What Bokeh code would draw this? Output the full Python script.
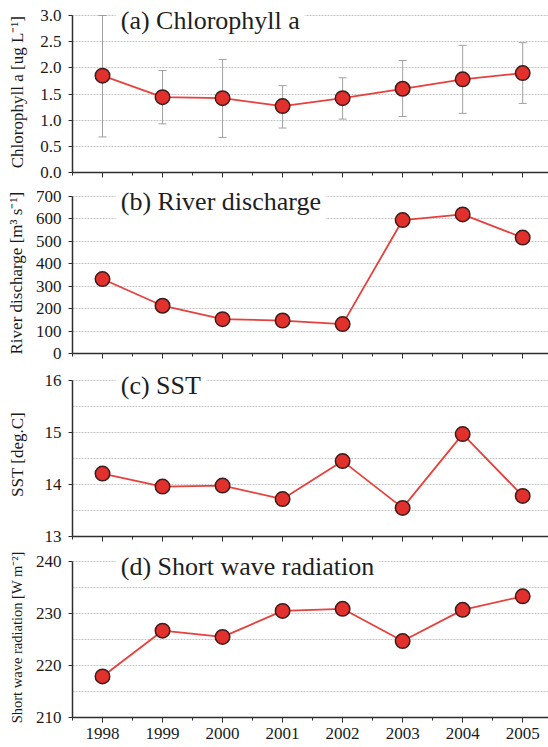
from bokeh.plotting import figure
from bokeh.layouts import column
from bokeh.models import Range1d, FixedTicker, Label, Whisker, TeeHead, ColumnDataSource
from bokeh.embed import file_html
from bokeh.resources import INLINE

years = [1998, 1999, 2000, 2001, 2002, 2003, 2004, 2005]
half_years = [1997.5, 1998.5, 1999.5, 2000.5, 2001.5, 2002.5, 2003.5, 2004.5, 2005.5]

chl = [1.85, 1.44, 1.42, 1.27, 1.42, 1.60, 1.78, 1.90]
chl_upper = [3.00, 1.95, 2.16, 1.66, 1.81, 2.14, 2.43, 2.48]
chl_lower = [0.68, 0.93, 0.67, 0.85, 1.02, 1.07, 1.13, 1.32]
river = [332, 213, 153, 147, 131, 595, 620, 517]
sst = [14.21, 13.96, 13.98, 13.72, 14.45, 13.55, 14.97, 13.78]
swr = [217.9, 226.7, 225.5, 230.5, 230.9, 224.7, 230.7, 233.3]

chl_ticks = [0.0, 0.5, 1.0, 1.5, 2.0, 2.5, 3.0]
river_ticks = [0, 100, 200, 300, 400, 500, 600, 700]
sst_ticks = [13, 14, 15, 16]
sst_grid = [13.5, 14.0, 14.5, 15.0, 15.5, 16.0]
swr_ticks = [210, 220, 230, 240]
swr_grid = [215, 220, 225, 230, 235, 240]

titles = ["(a) Chlorophyll a", "(b) River discharge", "(c) SST", "(d) Short wave radiation"]
ylabels = ["Chlorophyll a [ug  L\u207b\u00b9]", "River discharge [m\u00b3  s\u207b\u00b9]",
           "SST [deg.C]", "Short wave radiation [W  m\u207b\u00b2]"]

FONT = "Liberation Serif"
LINE_RED = "#e8403c"
FILL_RED = "#e2302c"
EDGE = "#3a1c1c"
AXIS = "#2e2e2e"
GRID = "#c4c4c4"
EXTRA = 8  # empty pixels above the top tick, room for the panel title


def panel(values, ymin, ymax, yticks, gridticks, ylabel, title, top, plot_h, bottom,
          label_standoff, label_size, last=False, upper=None, lower=None, tick_fmt=None):
    h = top + EXTRA + plot_h + bottom
    yext = ymax + (ymax - ymin) * EXTRA / plot_h
    p = figure(width=548, height=h, output_backend="svg", toolbar_location=None,
               x_range=Range1d(1997.5, 2005.43), y_range=Range1d(ymin, yext),
               min_border_left=72, min_border_right=0, min_border_top=top,
               min_border_bottom=bottom)
    p.outline_line_color = None
    p.background_fill_color = "white"
    p.border_fill_color = "white"
    p.xgrid.visible = False
    p.ygrid.ticker = FixedTicker(ticks=gridticks)
    p.ygrid.grid_line_color = GRID
    p.ygrid.grid_line_width = 1
    p.ygrid.grid_line_dash = "2 1"

    # x axis
    xa = p.xaxis[0]
    xa.ticker = FixedTicker(ticks=years, minor_ticks=half_years)
    xa.axis_line_color = AXIS
    xa.axis_line_width = 1.5
    xa.major_tick_line_color = AXIS
    xa.minor_tick_line_color = AXIS
    xa.major_tick_in = 0
    xa.major_tick_out = 5
    xa.minor_tick_in = 0
    xa.minor_tick_out = 3
    if last:
        xa.major_label_text_font = FONT
        xa.major_label_text_font_size = "17px"
        xa.major_label_text_color = "#1a1a1a"
        xa.major_label_standoff = 5
    else:
        xa.major_label_text_font_size = "0px"
        xa.major_label_text_color = None
        xa.major_label_standoff = 0

    # y axis
    ya = p.yaxis[0]
    ya.ticker = FixedTicker(ticks=yticks)
    ya.bounds = (ymin, ymax)
    if tick_fmt is not None:
        ya.major_label_overrides = {t: tick_fmt.format(t) for t in yticks}
    ya.axis_line_color = AXIS
    ya.axis_line_width = 1.5
    ya.major_tick_line_color = AXIS
    ya.major_tick_in = 0
    ya.major_tick_out = 4
    ya.minor_tick_line_color = None
    ya.major_label_text_font = FONT
    ya.major_label_text_font_size = "17px"
    ya.major_label_text_color = "#1a1a1a"
    ya.major_label_standoff = 7
    ya.axis_label = ylabel
    ya.axis_label_text_font = FONT
    ya.axis_label_text_font_size = label_size
    ya.axis_label_text_font_style = "normal"
    ya.axis_label_text_color = "#1a1a1a"
    ya.axis_label_standoff = label_standoff

    src = ColumnDataSource(dict(x=years, y=values))
    if upper is not None:
        esrc = ColumnDataSource(dict(x=years, up=upper, lo=lower))
        w = Whisker(base="x", upper="up", lower="lo", source=esrc,
                    line_color="#a0a0a0", line_width=1,
                    upper_head=TeeHead(size=8, line_color="#a0a0a0", line_width=1),
                    lower_head=TeeHead(size=8, line_color="#a0a0a0", line_width=1))
        p.add_layout(w)

    p.line("x", "y", source=src, line_color=LINE_RED, line_width=1.8)
    p.scatter("x", "y", source=src, size=14.5, fill_color=FILL_RED,
              line_color=EDGE, line_width=1.5)

    lab = Label(x=1998.22, y=ymax - (ymax - ymin) * 4.5 / plot_h, text=title,
                text_font=FONT, text_font_size="26px", text_color="#1e1e1e",
                text_baseline="middle", text_align="left",
                background_fill_color="white", background_fill_alpha=1.0,
                padding=5)
    p.add_layout(lab)
    return p


pa = panel(chl, 0.0, 3.0, chl_ticks, chl_ticks, ylabels[0], titles[0],
           7, 157, 11, 10, "17px", upper=chl_upper, lower=chl_lower, tick_fmt="{:.1f}")
pb = panel(river, 0, 700, river_ticks, river_ticks, ylabels[1], titles[1],
           5, 157, 12, 7, "17px")
pc = panel(sst, 13, 16, sst_ticks, sst_grid, ylabels[2], titles[2],
           7, 156, 11, 15, "17px")
pd = panel(swr, 210, 240, swr_ticks, swr_grid, ylabels[3], titles[3],
           6, 156, 30, 8, "14.5px", last=True)

layout = column(pa, pb, pc, pd, spacing=0)
open("out.html", "w").write(file_html(layout, INLINE))
